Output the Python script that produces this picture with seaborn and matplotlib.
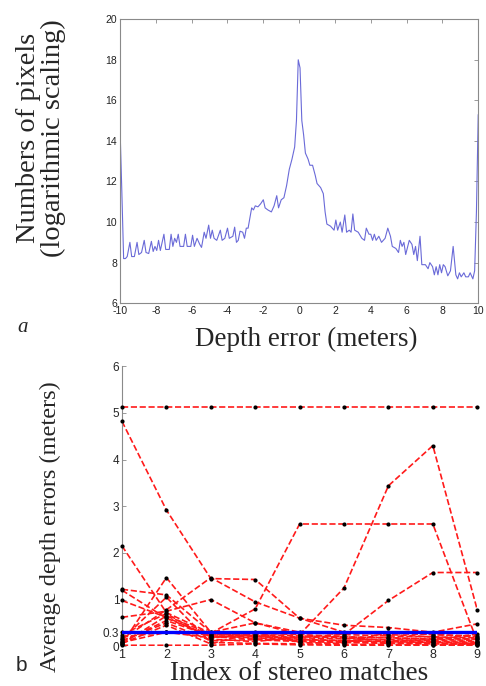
import numpy as np
import pandas as pd
import matplotlib
matplotlib.use("Agg")
import matplotlib.pyplot as plt
import seaborn as sns

# ---------------- data: panel a ----------------
depth_err = [-10.0, -9.9, -9.8, -9.7, -9.6, -9.45, -9.35, -9.2, -9.05, -8.95, -8.8, -8.65, -8.55,
             -8.4, -8.25, -8.15, -8.05, -7.95, -7.85, -7.75, -7.55, -7.45, -7.25, -7.15, -7.05,
             -6.95, -6.85, -6.75, -6.65, -6.45, -6.35, -6.25, -6.05, -5.95, -5.85, -5.7, -5.55,
             -5.45, -5.3, -5.2, -5.05, -4.95, -4.85, -4.75, -4.6, -4.4, -4.3, -4.15, -4.0, -3.9,
             -3.7, -3.6, -3.5, -3.4, -3.3, -3.15, -3.05, -2.95, -2.85, -2.75, -2.65, -2.55, -2.45,
             -2.3, -2.15, -2.0, -1.9, -1.75, -1.55, -1.4, -1.25, -1.15, -1.0, -0.85, -0.7, -0.55,
             -0.4, -0.25, -0.15, -0.05, 0.05, 0.15, 0.25, 0.35, 0.5, 0.6, 0.75, 0.9, 1.0, 1.2,
             1.35, 1.45, 1.55, 1.75, 1.95, 2.05, 2.15, 2.3, 2.4, 2.55, 2.65, 2.8, 2.9, 3.0, 3.1,
             3.3, 3.5, 3.65, 3.75, 3.9, 4.0, 4.1, 4.2, 4.3, 4.45, 4.6, 4.8, 4.95, 5.1, 5.2, 5.4,
             5.55, 5.65, 5.75, 5.85, 5.95, 6.15, 6.3, 6.4, 6.5, 6.6, 6.75, 6.85, 7.05, 7.2, 7.3,
             7.45, 7.55, 7.65, 7.75, 7.85, 7.95, 8.05, 8.15, 8.3, 8.45, 8.6, 8.75, 8.85, 8.95,
             9.05, 9.2, 9.3, 9.45, 9.55, 9.7, 9.8, 9.9, 10.0]
log_pixels = [14.6, 11.5, 8.2, 8.2, 8.3, 9.0, 8.3, 8.3, 9.0, 8.4, 8.5, 9.1, 8.5,
              8.45, 9.05, 8.55, 8.8, 8.6, 9.1, 8.6, 9.4, 8.65, 8.65, 9.4, 8.8,
              9.2, 9.0, 9.4, 8.8, 8.8, 9.4, 8.8, 8.8, 9.35, 8.8, 9.2, 8.9,
              8.75, 9.5, 9.2, 9.85, 9.2, 9.6, 9.2, 9.1, 9.6, 9.1, 9.2, 9.7, 9.2,
              9.3, 9.75, 9.0, 9.1, 9.55, 9.5, 9.2, 9.7, 9.7, 10.2, 10.7, 10.6, 10.8,
              10.75, 10.9, 11.1, 10.7, 10.6, 10.5, 10.8, 11.3, 10.7, 11.1, 11.2, 11.8, 12.6,
              13.1, 13.7, 15.0, 18.0, 17.6, 15.0, 14.3, 13.4, 13.1, 12.8, 12.8, 12.3, 11.9, 11.7,
              11.4, 10.5, 9.9, 9.8, 9.6, 10.1, 9.6, 10.0, 9.5, 10.35, 9.5, 9.6, 9.5, 10.4, 9.6,
              9.5, 9.2, 9.1, 9.7, 9.4, 9.4, 9.1, 9.4, 9.1, 9.3, 9.0, 9.2, 9.7, 9.3, 8.8, 8.7,
              8.5, 9.1, 8.8, 9.0, 8.4, 9.1, 8.9, 8.4, 8.8, 8.1, 9.3, 7.9, 7.9, 7.7, 8.0,
              7.8, 7.4, 7.8, 7.4, 7.9, 7.5, 7.9, 7.8, 7.35, 7.6, 8.8, 7.4, 7.2, 7.5,
              7.3, 7.5, 7.3, 7.3, 7.5, 7.2, 7.6, 10.5, 15.3]
xticks_a = [-10, -8, -6, -4, -2, 0, 2, 4, 6, 8, 10]
yticks_a = [6, 8, 10, 12, 14, 16, 18, 20]

# ---------------- data: panel b ----------------
match_index = [1, 2, 3, 4, 5, 6, 7, 8, 9]
s01 = [5.12, 5.12, 5.12, 5.12, 5.12, 5.12, 5.12, 5.12, 5.12]
s02 = [4.82, 2.92, 1.45, 1.43, 0.60, 0.45, 0.40, 0.30, 0.48]
s03 = [2.15, 0.72, 0.28, 0.22, 0.15, 0.12, 0.10, 0.10, 0.08]
s04 = [1.22, 1.10, 0.30, 0.50, 0.30, 0.25, 0.22, 0.20, 0.18]
s05 = [1.20, 0.60, 0.22, 0.18, 0.14, 0.12, 0.10, 0.08, 0.06]
s06 = [0.98, 0.62, 0.20, 0.16, 0.12, 0.10, 0.08, 0.07, 0.05]
s07 = [0.62, 0.75, 1.00, 0.50, 0.25, 0.20, 0.18, 0.15, 0.12]
s08 = [0.30, 0.30, 0.28, 0.80, 2.62, 2.62, 2.62, 2.62, 0.10]
s09 = [0.05, 1.47, 0.30, 0.28, 0.25, 1.25, 3.44, 4.30, 0.78]
s10 = [0.15, 0.78, 1.47, 0.95, 0.60, 0.30, 0.25, 0.20, 0.15]
s11 = [0.20, 0.30, 0.25, 0.22, 0.20, 0.25, 0.98, 1.58, 1.58]
s12 = [0.02, 0.02, 0.02, 0.05, 0.03, 0.02, 0.02, 0.02, 0.02]
s13 = [0.05, 0.65, 0.26, 0.24, 0.22, 0.20, 0.18, 0.16, 0.15]
s14 = [0.10, 0.55, 0.22, 0.20, 0.18, 0.16, 0.14, 0.12, 0.10]
s15 = [0.08, 0.30, 0.18, 0.26, 0.27, 0.28, 0.27, 0.25, 0.22]
s16 = [0.12, 0.50, 0.12, 0.14, 0.10, 0.08, 0.06, 0.05, 0.04]
s17 = [0.15, 1.05, 0.08, 0.06, 0.05, 0.04, 0.04, 0.03, 0.03]
s18 = [0.06, 0.45, 0.05, 0.30, 0.08, 0.06, 0.30, 0.25, 0.20]
s19 = [0.25, 0.70, 0.15, 0.10, 0.20, 0.18, 0.12, 0.14, 0.26]
series_b = [s01, s02, s03, s04, s05, s06, s07, s08, s09, s10,
            s11, s12, s13, s14, s15, s16, s17, s18, s19]
threshold = [0.3] * len(match_index)
yticks_b = [0, 0.3, 1, 2, 3, 4, 5, 6]
yticklabels_b = ["0", "0.3", "1", "2", "3", "4", "5", "6"]

rows = []
for k, s in enumerate(series_b):
    for xi, yi in zip(match_index, s):
        rows.append({"series": k, "index": xi, "err": yi})
df_b = pd.DataFrame(rows)
df_a = pd.DataFrame({"depth": depth_err, "val": log_pixels})
df_t = pd.DataFrame({"index": match_index, "err": threshold})

# ---------------- figure ----------------
sns.set_theme(style="white")
plt.rcParams["font.family"] = ["Liberation Sans", "DejaVu Sans"]

W, H = 486.0, 686.0
fig = plt.figure(figsize=(4.86, 6.86), dpi=100)
ax1 = fig.add_axes([0.247, 0.558, 0.737, 0.414])
ax2 = fig.add_axes([0.251, 0.058, 0.731, 0.408])

grey = "#8a8a8a"
serif = ["Liberation Serif", "DejaVu Serif"]

# panel a
sns.lineplot(data=df_a, x="depth", y="val", ax=ax1, color="#6a6ad8", linewidth=0.8,
             sort=False, estimator=None)
ax1.set_xlim(-10, 10)
ax1.set_ylim(6, 20)
ax1.set_xticks(xticks_a)
ax1.set_yticks(yticks_a)
ax1.set_xticklabels([str(v) for v in xticks_a])
ax1.set_yticklabels([str(v) for v in yticks_a])
ax1.tick_params(direction="in", top=True, right=True, length=3, width=0.6,
                colors="#222222", labelsize=7.5, pad=2)
ax1.tick_params(axis="both", color=grey)
for sp in ax1.spines.values():
    sp.set_visible(True)
    sp.set_color(grey)
    sp.set_linewidth(0.8)
ax1.set_xlabel("")
ax1.set_ylabel("")
fig.text(306 / W, 1 - 339 / H, "Depth error (meters)", fontsize=19.5, family=serif,
         ha="center", va="center")
fig.text(41 / W, 1 - 138 / H, "Numbers of pixels\n(logarithmic scaling)", fontsize=20.5,
         family=serif, rotation=90, ha="center", va="center", multialignment="center",
         linespacing=1.0)
fig.text(0.035, 0.522, "a", fontsize=15, family=serif, style="italic", va="center")

# panel b
sns.lineplot(data=df_b, x="index", y="err", units="series", estimator=None, ax=ax2,
             color="#ff1a1a", linewidth=1.2, linestyle="--", sort=False)
sns.scatterplot(data=df_b, x="index", y="err", ax=ax2, color="black", s=9,
                linewidth=0, zorder=4, clip_on=False)
sns.lineplot(data=df_t, x="index", y="err", ax=ax2, color="#0000ff", linewidth=2.4,
             zorder=5)
ax2.set_xlim(1, 9)
ax2.set_ylim(0, 6)
ax2.set_xticks(match_index)
ax2.set_xticklabels([str(v) for v in match_index])
ax2.set_yticks(yticks_b)
ax2.set_yticklabels(yticklabels_b)
ax2.tick_params(axis="y", direction="in", left=True, length=3, width=0.6, color=grey,
                labelsize=8.5, pad=2)
ax2.tick_params(axis="x", length=0, labelsize=9, pad=2)
for name, sp in ax2.spines.items():
    sp.set_visible(name == "left")
ax2.spines["left"].set_color(grey)
ax2.spines["left"].set_linewidth(0.8)
ax2.set_xlabel("")
ax2.set_ylabel("")
fig.text(299 / W, 1 - 673 / H, "Index of stereo matches", fontsize=19.5, family=serif,
         ha="center", va="center")
fig.text(50 / W, 1 - 527 / H, "Average depth errors (meters)", fontsize=17.5,
         family=serif, rotation=90, ha="center", va="center")
fig.text(0.033, 0.03, "b", fontsize=15, va="center")

fig.savefig("out.png", dpi=100)
